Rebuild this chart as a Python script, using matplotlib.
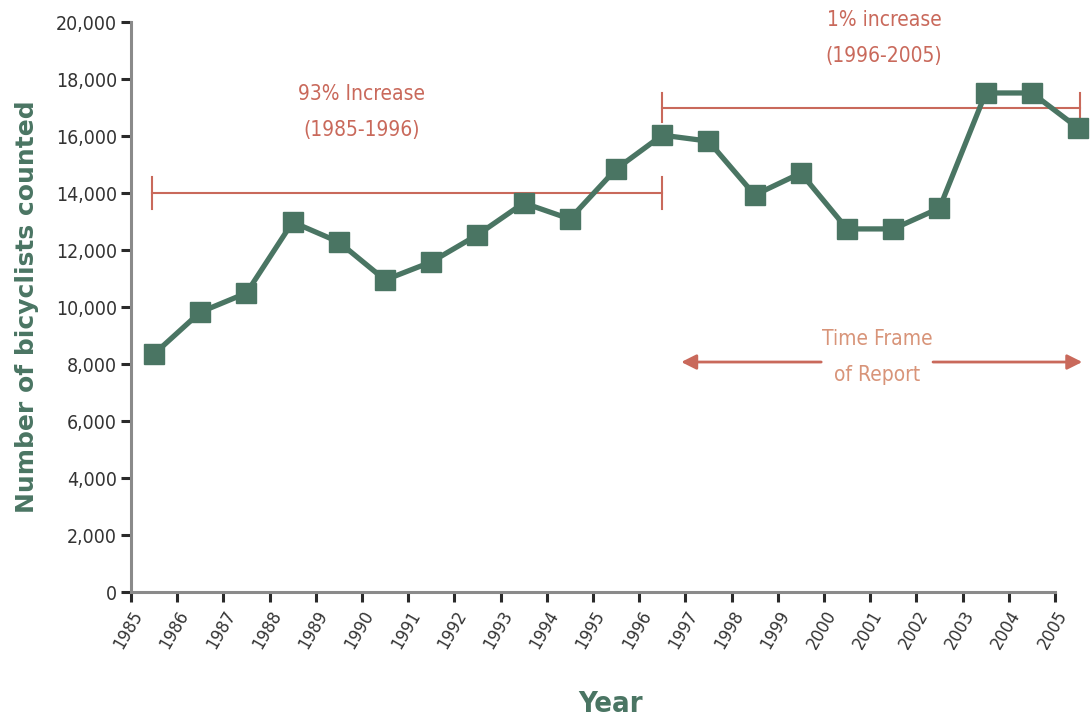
import matplotlib.pyplot as plt
import numpy as np

years = np.arange(1985, 2006)
counts = [8350, 9820, 10490, 12980, 12280, 10950, 11580, 12530, 13650, 13090,
          14840, 16030, 15820, 13930, 14700, 12740, 12740, 13470, 17510, 17510, 16280]

GREEN = '#4a7563'
RED = '#c9695b'
ORANGE = '#d89479'

plt.rcParams['font.family'] = ['DejaVu Sans']
plt.rcParams['font.stretch'] = 'condensed'

fig = plt.figure(figsize=(10.91, 7.19), dpi=100)
ax = fig.add_axes([0.120, 0.1766, 0.880, 0.7928])

# points sit in the middle of each year interval
x = years + 0.5
ax.plot(x, counts, color=GREEN, lw=3.8, marker='s', ms=15,
        markerfacecolor=GREEN, markeredgecolor=GREEN, clip_on=False, zorder=3)

ax.set_xlim(1985, 1985 + (1091 - 131) / 46.2)
ax.set_ylim(0, 20000)
ax.spines['bottom'].set_bounds(1985, 2005)
for s in ['top', 'right']:
    ax.spines[s].set_visible(False)
for s in ['left', 'bottom']:
    ax.spines[s].set_color('#8a8a8a')
    ax.spines[s].set_linewidth(2.2)

ax.set_xticks(years)
ax.set_xticklabels([str(y) for y in years], rotation=60, ha='right',
                   rotation_mode='anchor', fontsize=13, color='#333333')
ax.set_yticks(np.arange(0, 20001, 2000))
ax.set_yticklabels(['{:,}'.format(v) for v in range(0, 20001, 2000)],
                   fontsize=14, color='#333333')
ax.tick_params(axis='both', direction='out', length=7, width=2.2, color='#2a2a2a')
ax.tick_params(axis='x', pad=4)
ax.tick_params(axis='y', pad=3)

ax.set_ylabel('Number of bicyclists counted', color=GREEN, fontsize=18,
              fontweight='bold', fontstretch='normal', labelpad=12)
ax.set_xlabel('Year', color=GREEN, fontsize=21, fontweight='bold', labelpad=27)

# brackets
def bracket(x0, x1, y, h):
    ax.plot([x0, x1], [y, y], color=RED, lw=1.5, clip_on=False)
    for xx in (x0, x1):
        ax.plot([xx, xx], [y - h, y + h], color=RED, lw=1.5, clip_on=False)

bracket(1985.45, 1996.5, 14000, 550)
bracket(1996.5, 2005.55, 17000, 500)

ax.text(1990.0, 16850, '93% Increase\n(1985-1996)', color=RED, fontsize=15,
        ha='center', va='center', linespacing=2.0)
ax.text(2001.3, 19450, '1% increase\n(1996-2005)', color=RED, fontsize=15,
        ha='center', va='center', linespacing=2.0)

# time frame arrows
ax.text(2001.15, 8250, 'Time Frame\nof Report', color=ORANGE, fontsize=15,
        ha='center', va='center', linespacing=2.0)
arrow = dict(arrowstyle='-|>,head_length=0.9,head_width=0.45', color=RED, lw=2)
ax.annotate('', xy=(1996.85, 8070), xytext=(2000.0, 8070), arrowprops=arrow,
            annotation_clip=False)
ax.annotate('', xy=(2005.65, 8070), xytext=(2002.3, 8070), arrowprops=arrow,
            annotation_clip=False)

fig.savefig('out.png', dpi=100)
